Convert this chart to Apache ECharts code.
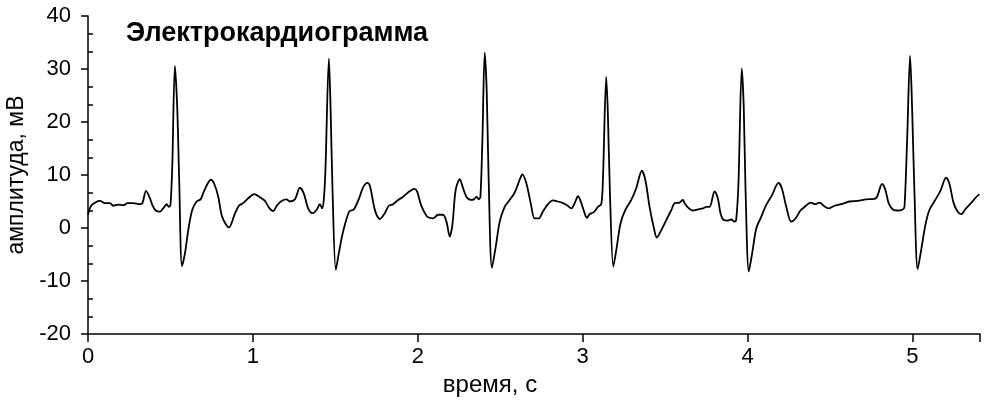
<!DOCTYPE html>
<html>
<head>
<meta charset="utf-8">
<script src="https://cdn.jsdelivr.net/npm/echarts@6/dist/echarts.min.js"></script>
<style>
html,body{margin:0;padding:0;background:#fff;}
#chart{width:985px;height:410px;}
</style>
</head>
<body>
<div id="chart"></div>
<script>
// time, s
var time = [
0.000,0.022,0.073,0.103,0.133,0.153,0.184,0.214,0.240,0.275,0.315,0.330,0.352,0.376,0.392,0.410,0.436,0.463,0.477,0.490,0.500,
0.511,0.527,0.541,0.553,0.570,0.588,0.608,0.632,0.659,0.683,0.703,0.745,0.766,0.790,0.814,0.855,0.891,0.915,0.941,0.972,
1.008,1.042,1.073,1.099,1.123,1.147,1.174,1.204,1.224,1.255,1.285,1.309,1.335,1.362,1.386,1.406,1.420,1.430,
1.440,1.461,1.471,1.483,1.503,1.521,1.547,1.584,1.612,1.644,1.669,1.695,1.711,1.735,1.750,1.770,1.800,1.824,1.850,1.881,1.911,1.941,1.978,1.996,
2.016,2.038,2.059,2.093,2.123,2.153,2.174,2.194,2.210,2.230,2.255,2.275,2.295,2.321,2.341,2.356,2.370,2.380,
2.392,2.406,2.418,2.430,2.450,2.473,2.497,2.527,2.553,2.588,2.618,2.634,2.659,2.685,2.709,2.733,2.759,2.790,2.820,2.850,2.881,2.905,2.932,2.952,2.972,2.992,
3.012,3.026,3.042,3.068,3.093,3.113,3.123,3.143,3.153,3.165,3.186,3.204,3.230,3.259,3.295,3.325,3.359,3.380,3.406,3.430,3.450,3.477,3.507,3.538,3.558,3.588,3.608,3.618,3.638,3.669,3.699,3.729,3.750,3.770,3.800,3.820,3.836,3.856,3.881,3.901,3.921,3.931,
3.945,3.965,3.977,3.988,4.008,4.028,4.053,4.083,4.113,4.147,4.188,4.208,4.235,4.265,4.291,4.321,4.347,4.382,4.412,4.438,4.462,4.491,4.527,4.568,4.618,4.668,4.719,4.770,4.786,4.816,4.836,4.856,4.881,4.911,4.941,4.952,
4.968,4.986,4.998,5.012,5.032,5.053,5.079,5.103,5.133,5.170,5.204,5.224,5.250,5.274,5.295,5.325,5.355,5.386,5.406
];
// amplitude, mV
var amplitude = [
2.5,4.3,5.1,4.7,4.7,4.2,4.4,4.3,4.7,4.7,4.5,4.7,7.0,5.6,4.2,3.3,3.1,4.0,4.5,4.0,4.3,
11.6,30.6,22.9,9.1,-7.2,-4.8,-0.4,3.4,5.0,5.4,6.9,9.1,8.3,5.9,2.1,0.1,2.7,4.2,4.7,5.6,
6.4,5.8,5.1,3.8,3.2,4.3,5.1,5.4,5.0,5.4,7.6,6.5,3.7,2.8,3.4,4.5,3.7,5.3,
10.9,32.0,22.9,7.2,-7.9,-4.8,-0.7,3.1,3.5,5.6,7.7,8.5,7.8,4.0,2.5,1.7,2.8,4.2,4.5,5.3,5.9,6.7,7.4,6.9,
4.7,3.1,2.1,1.8,2.5,2.5,1.2,-1.6,0.6,7.2,9.2,7.5,5.9,5.3,5.4,5.9,5.4,5.9,
16.6,33.1,26.0,9.1,-7.5,-3.5,1.2,4.0,5.1,6.7,9.1,10.1,8.4,4.7,1.8,1.8,3.1,4.5,5.2,5.0,4.7,4.3,3.7,4.7,6.0,4.7,
2.8,1.9,2.6,3.0,4.0,4.5,9.1,28.5,21.6,7.2,-7.3,-4.2,0.9,3.4,5.3,7.5,10.8,9.1,4.0,0.3,-1.8,-0.4,1.5,3.4,4.7,4.8,5.3,4.7,3.9,3.3,3.5,3.7,4.0,4.0,6.9,5.6,2.8,1.5,1.4,1.6,1.2,1.5,
8.4,30.1,22.9,7.2,-8.2,-4.8,-0.1,2.1,4.3,6.1,8.5,7.5,4.0,1.2,1.8,3.3,4.0,4.8,4.5,4.8,4.2,3.7,4.2,4.5,5.0,5.1,5.4,5.5,5.9,8.3,7.2,4.7,3.5,3.3,3.5,4.0,
16.6,32.5,22.9,7.2,-7.8,-4.2,0.6,3.4,5.0,7.0,9.5,8.4,4.7,3.1,2.6,3.7,4.7,5.8,6.4
];
var xTickLabels = ['0','1','2','3','4','5'];
var yTickLabels = ['-20','-10','0','10','20','30','40'];
var titleText = 'Электрокардиограмма';
var xName = 'время, с';
var yName = 'амплитуда, мВ';

var points = time.map(function(t, i){ return [t, amplitude[i]]; });

var font = 'Liberation Sans, Arial, sans-serif';
var gridLeft = 88, gridRight = 5;
var gridWidth = 985 - gridLeft - gridRight;
var chart = echarts.init(document.getElementById('chart'), null, {renderer:'canvas'});
chart.setOption({
  animation: false,
  backgroundColor: '#fff',
  title: {
    text: titleText, left: 121, top: 15,
    textStyle: {fontFamily: font, fontSize: 27, fontWeight: 'bold', color: '#000'}
  },
  grid: {left: gridLeft, right: gridRight, top: 16, bottom: 76, containLabel: false, outerBoundsMode: 'none'},
  xAxis: {
    type: 'value', min: 0, max: 5.41, interval: 1,
    name: xName, nameLocation: 'middle', nameGap: 39,
    nameTextStyle: {fontFamily: font, fontSize: 24, color: '#000', padding: [0, 88, 0, 0]},
    axisLine: {show: true, onZero: false, lineStyle: {color: '#000', width: 1.5}},
    axisTick: {show: true, inside: false, length: 8, lineStyle: {color: '#000', width: 1.5}},
    axisLabel: {fontFamily: font, fontSize: 22, color: '#000', margin: 12,
      formatter: function(v){ var i = Math.round(v); return (Math.abs(v - i) < 1e-6 && i >= 0 && i < xTickLabels.length) ? xTickLabels[i] : ''; }},
    splitLine: {show: false}, minorTick: {show: false}
  },
  yAxis: [{
    type: 'value', min: -20, max: 40, interval: 10,
    name: yName, nameLocation: 'middle', nameGap: 58, nameRotate: 90,
    nameTextStyle: {fontFamily: font, fontSize: 23, color: '#000'},
    axisLine: {show: true, onZero: false, lineStyle: {color: '#000', width: 1.5}},
    axisTick: {show: true, inside: false, length: 7, lineStyle: {color: '#000', width: 1.5}},
    axisLabel: {fontFamily: font, fontSize: 22, color: '#000', margin: 17,
      formatter: function(v){ var i = Math.round((v + 20) / 10); return yTickLabels[i] || ''; }},
    splitLine: {show: false}, minorTick: {show: false}
  }, {
    type: 'value', min: -20, max: 40, interval: 10, position: 'right', offset: -gridWidth,
    axisLine: {show: false, onZero: false},
    axisTick: {show: false},
    axisLabel: {show: false},
    splitLine: {show: false},
    minorTick: {show: true, splitNumber: 3, length: 5, lineStyle: {color: '#000', width: 1.5}}
  }],
  series: [{
    type: 'line', data: points, xAxisIndex: 0, yAxisIndex: 0,
    showSymbol: false, symbol: 'none', smooth: 0.3,
    lineStyle: {color: '#000', width: 1.8}
  }]
});
</script>
</body>
</html>
